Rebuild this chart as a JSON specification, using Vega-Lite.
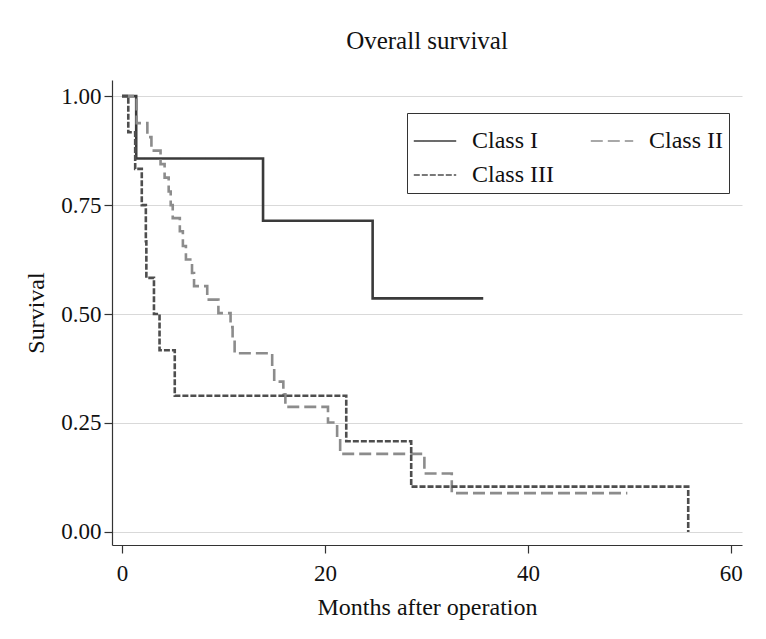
{
  "$schema": "https://vega.github.io/schema/vega-lite/v6.json",
  "width": 630,
  "height": 465,
  "autosize": {"type": "none"},
  "padding": {"left": 112, "top": 80, "right": 24, "bottom": 94},
  "background": "white",
  "title": {"text": "Overall survival", "font": "Liberation Serif", "fontSize": 25, "fontWeight": "normal", "color": "#111", "offset": 26, "anchor": "middle"},
  "data": {"values": [
    {"cls": "Class I", "month": 0, "surv": 1.0},
    {"cls": "Class I", "month": 1.4, "surv": 0.857},
    {"cls": "Class I", "month": 13.9, "surv": 0.714},
    {"cls": "Class I", "month": 24.7, "surv": 0.536},
    {"cls": "Class I", "month": 35.6, "surv": 0.536},
    {"cls": "Class II", "month": 0, "surv": 1.0},
    {"cls": "Class II", "month": 1.45, "surv": 0.938},
    {"cls": "Class II", "month": 2.5, "surv": 0.906},
    {"cls": "Class II", "month": 2.9, "surv": 0.875},
    {"cls": "Class II", "month": 3.8, "surv": 0.844},
    {"cls": "Class II", "month": 4.2, "surv": 0.813},
    {"cls": "Class II", "month": 4.6, "surv": 0.781},
    {"cls": "Class II", "month": 4.8, "surv": 0.75},
    {"cls": "Class II", "month": 5.0, "surv": 0.72},
    {"cls": "Class II", "month": 5.7, "surv": 0.69},
    {"cls": "Class II", "month": 6.0, "surv": 0.656},
    {"cls": "Class II", "month": 6.3, "surv": 0.625},
    {"cls": "Class II", "month": 6.9, "surv": 0.594},
    {"cls": "Class II", "month": 7.1, "surv": 0.564},
    {"cls": "Class II", "month": 8.4, "surv": 0.533},
    {"cls": "Class II", "month": 9.5, "surv": 0.502},
    {"cls": "Class II", "month": 10.7, "surv": 0.47},
    {"cls": "Class II", "month": 10.9, "surv": 0.44},
    {"cls": "Class II", "month": 11.1, "surv": 0.41},
    {"cls": "Class II", "month": 14.8, "surv": 0.376},
    {"cls": "Class II", "month": 15.0, "surv": 0.345},
    {"cls": "Class II", "month": 15.9, "surv": 0.316},
    {"cls": "Class II", "month": 16.1, "surv": 0.287},
    {"cls": "Class II", "month": 20.3, "surv": 0.251},
    {"cls": "Class II", "month": 21.2, "surv": 0.215},
    {"cls": "Class II", "month": 21.5, "surv": 0.179},
    {"cls": "Class II", "month": 29.8, "surv": 0.134},
    {"cls": "Class II", "month": 32.5, "surv": 0.089},
    {"cls": "Class II", "month": 49.8, "surv": 0.089},
    {"cls": "Class III", "month": 0, "surv": 1.0},
    {"cls": "Class III", "month": 0.62, "surv": 0.917},
    {"cls": "Class III", "month": 1.3, "surv": 0.833},
    {"cls": "Class III", "month": 1.95, "surv": 0.75},
    {"cls": "Class III", "month": 2.35, "surv": 0.667},
    {"cls": "Class III", "month": 2.4, "surv": 0.583},
    {"cls": "Class III", "month": 3.15, "surv": 0.5},
    {"cls": "Class III", "month": 3.7, "surv": 0.417},
    {"cls": "Class III", "month": 5.2, "surv": 0.3125},
    {"cls": "Class III", "month": 22.1, "surv": 0.208},
    {"cls": "Class III", "month": 28.5, "surv": 0.104},
    {"cls": "Class III", "month": 55.8, "surv": 0.0}
  ]},
  "mark": {"type": "line", "interpolate": "step-after", "strokeWidth": 2.6, "clip": true},
  "encoding": {
    "x": {
      "field": "month", "type": "quantitative",
      "scale": {"domain": [-0.985, 61.1], "nice": false, "zero": false},
      "axis": {
        "values": [0, 20, 40, 60], "format": "d", "grid": false,
        "title": "Months after operation",
        "titleFont": "Liberation Serif", "titleFontSize": 24, "titleFontWeight": "normal", "titleColor": "#111", "titlePadding": 10,
        "labelFont": "Liberation Serif", "labelFontSize": 23, "labelColor": "#111", "labelPadding": 9,
        "tickSize": 8, "tickColor": "#333", "domainColor": "#333", "domainWidth": 1.2, "tickWidth": 1.2
      }
    },
    "y": {
      "field": "surv", "type": "quantitative",
      "scale": {"domain": [-0.030, 1.037], "nice": false, "zero": false},
      "axis": {
        "values": [0, 0.25, 0.5, 0.75, 1], "format": ".2f", "grid": true, "gridColor": "#d9d9d9", "gridWidth": 1.2,
        "title": "Survival",
        "titleFont": "Liberation Serif", "titleFontSize": 24, "titleFontWeight": "normal", "titleColor": "#111", "titlePadding": 12,
        "labelFont": "Liberation Serif", "labelFontSize": 23, "labelColor": "#111", "labelPadding": 3,
        "tickSize": 8, "tickColor": "#333", "domainColor": "#333", "domainWidth": 1.2, "tickWidth": 1.2
      }
    },
    "color": {
      "field": "cls", "type": "nominal",
      "scale": {"domain": ["Class I", "Class II", "Class III"], "range": ["#3a3a3a", "#8c8c8c", "#4e4e4e"]},
      "legend": {
        "title": null, "orient": "none", "legendX": 295, "legendY": 33, "direction": "horizontal", "columns": 2,
        "symbolType": "stroke", "symbolSize": 1800, "symbolStrokeWidth": 1.3,
        "labelFont": "Liberation Serif", "labelFontSize": 24, "labelColor": "#111", "labelOffset": 15,
        "columnPadding": 34, "rowPadding": -4, "padding": 6,
        "strokeColor": "#333", "fillColor": "white"
      }
    },
    "strokeDash": {
      "field": "cls", "type": "nominal",
      "scale": {"domain": ["Class I", "Class II", "Class III"], "range": [[1, 0], [12, 5], [6, 2]]}
    }
  },
  "config": {"view": {"stroke": null}, "legend": {"symbolDash": null}}
}
